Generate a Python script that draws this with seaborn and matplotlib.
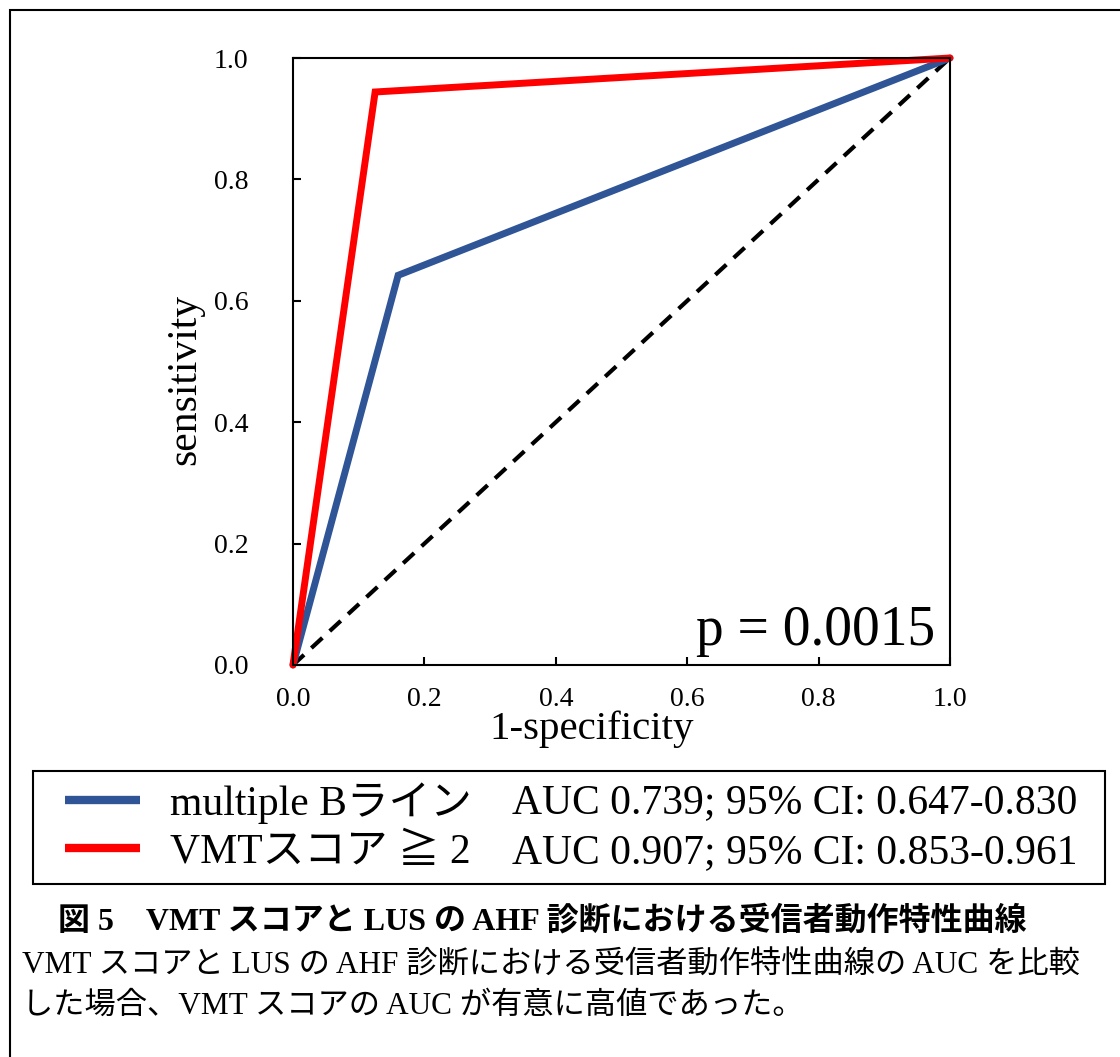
import matplotlib
matplotlib.use("Agg")
import matplotlib.pyplot as plt
import seaborn as sns
import pandas as pd
from matplotlib.patches import Rectangle

# ---- data ----
fpr_lus = [0.0, 0.16, 1.0]
tpr_lus = [0.0, 0.642, 1.0]
fpr_vmt = [0.0, 0.125, 1.0]
tpr_vmt = [0.0, 0.944, 1.0]
ref_x = [0.0, 1.0]
ref_y = [0.0, 1.0]
series_labels = ["multiple Bライン", "VMTスコア ≧ 2"]
auc_labels = ["AUC 0.739; 95% CI: 0.647-0.830", "AUC 0.907; 95% CI: 0.853-0.961"]
tick_vals = [0.0, 0.2, 0.4, 0.6, 0.8, 1.0]
tick_labels = ["0.0", "0.2", "0.4", "0.6", "0.8", "1.0"]
x_label = "1-specificity"
y_label = "sensitivity"
p_text = "p = 0.0015"
caption_title = "図 5　VMT スコアと LUS の AHF 診断における受信者動作特性曲線"
caption_lines = ["VMT スコアと LUS の AHF 診断における受信者動作特性曲線の AUC を比較",
                 "した場合、VMT スコアの AUC が有意に高値であった。"]

sns.set_theme(style="white")
FAM = ["Liberation Serif", "Noto Sans CJK JP", "DejaVu Sans"]
plt.rcParams["font.family"] = FAM
plt.rcParams["text.color"] = "black"
plt.rcParams["axes.labelcolor"] = "black"

W, H = 1120, 1057
fig = plt.figure(figsize=(W / 100, H / 100), dpi=100)
ax = fig.add_axes([293 / W, 1 - 665 / H, 657 / W, 607 / H])

blue = "#2F5597"
red = "#FF0000"

df_ref = pd.DataFrame({"x": ref_x, "y": ref_y})
df_lus = pd.DataFrame({"x": fpr_lus, "y": tpr_lus})
df_vmt = pd.DataFrame({"x": fpr_vmt, "y": tpr_vmt})

sns.lineplot(data=df_ref, x="x", y="y", ax=ax, color="black", linewidth=3,
             legend=False)
ax.lines[-1].set_dashes((3.6, 2.4))
sns.lineplot(data=df_lus, x="x", y="y", ax=ax, color=blue, linewidth=5,
             label=series_labels[0], legend=False)
sns.lineplot(data=df_vmt, x="x", y="y", ax=ax, color=red, linewidth=5,
             label=series_labels[1], legend=False)
for ln in ax.lines:
    ln.set_clip_on(False)
    ln.set_solid_joinstyle("miter")

ax.set_xlim(0, 1)
ax.set_ylim(0, 1)
ax.set_xticks(tick_vals)
ax.set_xticklabels(tick_labels)
ax.set_yticks(tick_vals)
ax.set_yticklabels(tick_labels)
ax.tick_params(axis="both", direction="in", length=5.5, width=1.5,
               labelsize=20, colors="black")
ax.tick_params(axis="y", pad=32)
ax.tick_params(axis="x", pad=16)
ax.tick_params(top=False, right=False, bottom=True, left=True)
for sp in ax.spines.values():
    sp.set_visible(True)
    sp.set_color("black")
    sp.set_linewidth(1.5)

ax.set_xlabel(x_label, fontsize=29.5, color="black")
ax.set_ylabel(y_label, fontsize=30, color="black")
ax.xaxis.set_label_coords(0.455, -0.075)
ax.yaxis.set_label_coords(-0.135, 0.47)

ax.text(0.977, 0.033, p_text, transform=ax.transAxes, ha="right",
        va="baseline", fontsize=40, color="black")

# legend frame
fig.patches.append(Rectangle((33 / W, 1 - 884 / H), (1105 - 33) / W, (884 - 771) / H,
                             transform=fig.transFigure, fill=False,
                             edgecolor="black", linewidth=1.5))
handles = [ax.lines[1], ax.lines[2]]
leg = fig.legend(handles, series_labels,
                 bbox_to_anchor=(65 / W, 1 - 827 / H),
                 loc="center left", fontsize=30, frameon=False,
                 handlelength=1.8, handletextpad=0.72, borderpad=0,
                 labelspacing=0.22, borderaxespad=0, labelcolor="black")
for l in leg.get_lines():
    l.set_linewidth(6)
    l.set_solid_capstyle("butt")

fig.canvas.draw()
inv = fig.transFigure.inverted()
for t, s in zip(leg.get_texts(), auc_labels):
    bb = t.get_window_extent()
    yc = inv.transform((0, (bb.y0 + bb.y1) / 2))[1]
    fig.text(512 / W, yc, s, ha="left", va="center", fontsize=30,
             color="black", zorder=10)

# caption
fig.text(58 / W, 1 - 921 / H, caption_title, ha="left", va="center",
         fontsize=23, fontweight="bold", color="black")
fig.text(22 / W, 1 - 966 / H, caption_lines[0], ha="left", va="center",
         fontsize=22.5, color="black")
fig.text(22 / W, 1 - 1006 / H, caption_lines[1], ha="left", va="center",
         fontsize=22.5, color="black")

# outer border
fig.patches.append(Rectangle((10 / W, -0.05), 1.2, 1 - 10 / H + 0.05,
                             transform=fig.transFigure, fill=False,
                             edgecolor="black", linewidth=1.5))

fig.savefig("out.png", dpi=100, facecolor="white")
